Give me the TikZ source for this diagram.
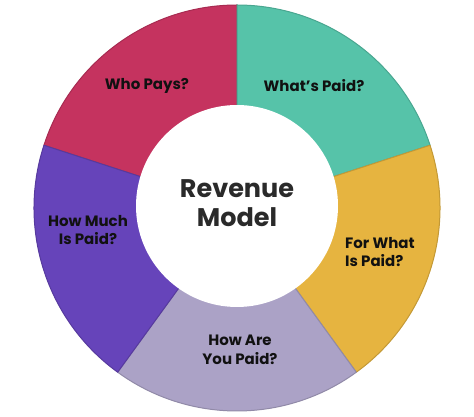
\documentclass[tikz,border=0pt]{standalone}
\usepackage{fontspec}
\setmainfont{Poppins}
\definecolor{cred}{HTML}{C5335F}
\definecolor{cgreen}{HTML}{56C3A9}
\definecolor{cyellow}{HTML}{E6B440}
\definecolor{clav}{HTML}{ABA2C6}
\definecolor{cpurple}{HTML}{6644BA}
\definecolor{ctext}{HTML}{111111}
\definecolor{ctitle}{HTML}{2A2A2A}
\begin{document}
\begin{tikzpicture}[x=1pt,y=1pt,
  seglabel/.style={text=ctext,font=\bfseries\fontsize{15}{18.5}\selectfont,align=center,inner sep=0pt},
  segfill/.style={fill=#1,draw=#1!85!black,line width=1pt,line join=round}]
\useasboundingbox (0,0) rectangle (474,417);
\begin{scope}[shift={(237,209)}]
  \def\R{203}
  \filldraw[segfill=cred]    (0,0) -- (90:\R)  arc[start angle=90,  end angle=162, radius=\R] -- cycle;
  \filldraw[segfill=cgreen]  (0,0) -- (18:\R)  arc[start angle=18,  end angle=90,  radius=\R] -- cycle;
  \filldraw[segfill=cyellow] (0,0) -- (-54:\R) arc[start angle=-54, end angle=18,  radius=\R] -- cycle;
  \filldraw[segfill=clav]    (0,0) -- (-126:\R) arc[start angle=-126, end angle=-54, radius=\R] -- cycle;
  \filldraw[segfill=cpurple] (0,0) -- (162:\R) arc[start angle=162, end angle=234, radius=\R] -- cycle;
\end{scope}
\node[circle,fill=white,minimum size=202pt,inner sep=0pt] (hub) at (237,211) {};
\node[text=ctitle,font=\bfseries\fontsize{25.5}{28.5}\selectfont,align=center,inner sep=0pt] (title) at (237,214) {Revenue\\Model};
\node[seglabel] (who) at (147,331) {Who Pays?};
\node[seglabel] (what) at (314,331) {What’s Paid?};
\node[seglabel] (much) at (88,187) {How Much\\Is Paid?};
\node[seglabel,align=left,anchor=west] (for) at (345,165) {For What\\Is Paid?};
\node[seglabel] (how) at (240,67) {How Are\\You Paid?};
\end{tikzpicture}
\end{document}
